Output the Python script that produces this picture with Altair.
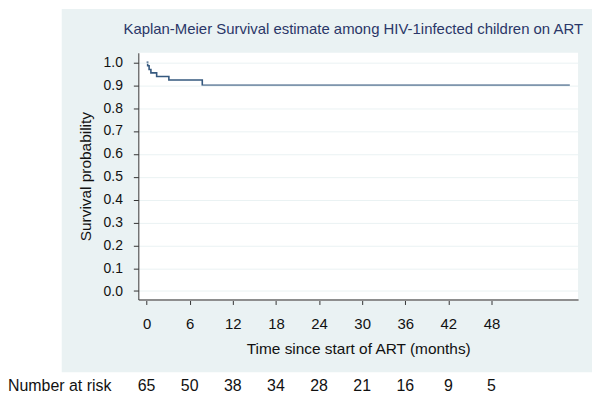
import altair as alt
import pandas as pd

# ---- data ----
times = [0, 0.15, 0.35, 0.6, 1.4, 3.1, 7.75, 58.9]
survival = [1.0, 0.985, 0.969, 0.954, 0.938, 0.923, 0.9, 0.9]

risk_months = [0, 6, 12, 18, 24, 30, 36, 42, 48]
risk_counts = [65, 50, 38, 34, 28, 21, 16, 9, 5]

x_ticks = [0, 6, 12, 18, 24, 30, 36, 42, 48]
y_ticks = [0.0, 0.1, 0.2, 0.3, 0.4, 0.5, 0.6, 0.7, 0.8, 0.9, 1.0]

title_text = "Kaplan-Meier Survival estimate among HIV-1infected children on ART"
risk_label = "Number at risk"

FONT = "Liberation Sans, Arial, sans-serif"
W, H = 442, 248

curve_df = pd.DataFrame({"t": times, "s": survival})
risk_df = pd.DataFrame({"t": risk_months, "n": risk_counts})
one = pd.DataFrame({"a": [0]})

xscale = alt.Scale(domain=[-1.15, 60.05], nice=False, zero=False)
yscale = alt.Scale(domain=[-0.037, 1.042], nice=False, zero=False)

panel = alt.Chart(one).mark_rect(color="#EAF2F3").encode(
    x=alt.value(-77), x2=alt.value(456), y=alt.value(-44), y2=alt.value(321)
)
plotbg = alt.Chart(one).mark_rect(color="white").encode(
    x=alt.value(0), x2=alt.value(W), y=alt.value(0), y2=alt.value(H)
)

line = alt.Chart(curve_df).mark_line(
    interpolate="step-after", color="#36597F", strokeWidth=1.6
).encode(
    x=alt.X("t:Q", scale=xscale, axis=alt.Axis(
        values=x_ticks, grid=False, title="Time since start of ART (months)",
        domainColor="#8E8E8E", domainWidth=2, tickColor="#333333", tickSize=5,
        labelFontSize=15, labelColor="#111111", labelFont=FONT, labelPadding=12,
        titleFont=FONT, titleFontSize=15.5, titleFontWeight="normal", titleColor="#111111",
        titlePadding=10, zindex=1)),
    y=alt.Y("s:Q", scale=yscale, axis=alt.Axis(
        values=y_ticks, format=".1f", grid=True, gridColor="#EAF2F3", gridWidth=1,
        title="Survival probability",
        domainColor="#333333", domainWidth=1, tickColor="#333333", tickSize=5,
        labelFontSize=14, labelColor="#111111", labelFont=FONT, labelPadding=11,
        titleFont=FONT, titleFontSize=15.5, titleFontWeight="normal", titleColor="#111111",
        titlePadding=10, zindex=1)),
)

title_mark = alt.Chart(one).mark_text(
    fontSize=15, font=FONT, color="#2A3768", baseline="middle", align="center"
).encode(
    x=alt.value(216), y=alt.value(-24), text=alt.value(title_text)
)

risk = alt.Chart(risk_df).mark_text(
    fontSize=16, font=FONT, color="#111111", baseline="middle", align="center"
).encode(
    x=alt.X("t:Q", scale=xscale),
    y=alt.value(335),
    text=alt.Text("n:Q"),
)

risk_lab = alt.Chart(one).mark_text(
    fontSize=16, font=FONT, color="#111111", baseline="middle", align="left"
).encode(
    x=alt.value(-131), y=alt.value(335), text=alt.value(risk_label)
)

chart = alt.layer(panel, plotbg, line, title_mark, risk, risk_lab).properties(
    width=W, height=H,
    autosize=alt.AutoSizeParams(type="none"),
    padding={"left": 131, "top": 44, "right": 14, "bottom": 97},
).configure_view(stroke=None).configure(background="white")

chart.save("out.html", embed_options={"renderer": "svg", "actions": False})
